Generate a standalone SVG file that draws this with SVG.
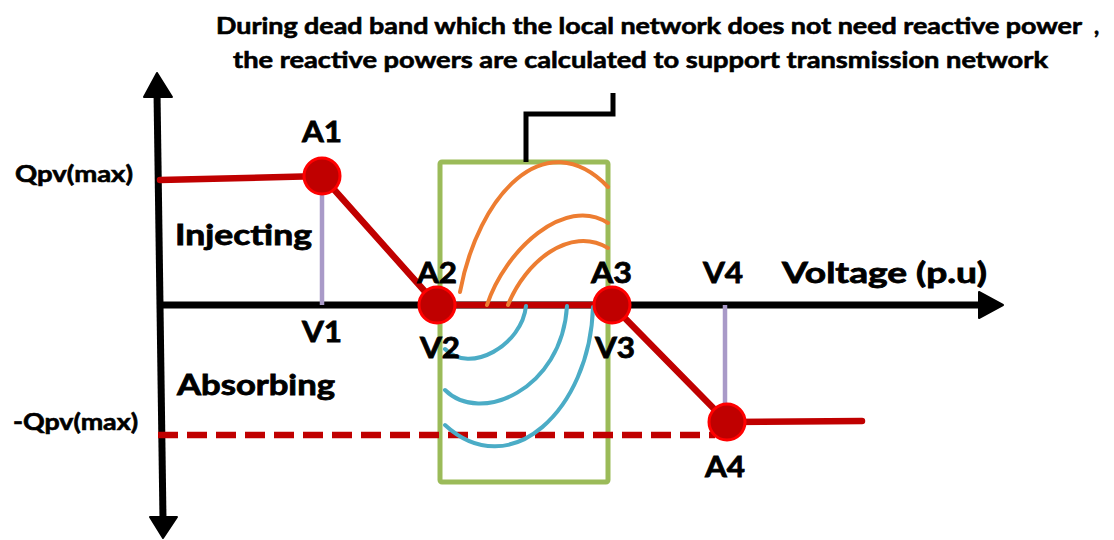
<svg xmlns="http://www.w3.org/2000/svg" width="1114" height="540" viewBox="0 0 1114 540">
<style>
text{font-family:Lato,"Liberation Sans",sans-serif;font-weight:bold;fill:#000;stroke:#000;stroke-width:0.6}
.t{font-size:22px}
.q{font-size:22px}
.l{font-size:28px;stroke-width:0.8}
.ax{stroke:#000;stroke-width:7;fill:none}
.red{stroke:#c00000;stroke-width:6.5;fill:none;stroke-linecap:round;stroke-linejoin:round}
.pur{stroke:#a99ac8;stroke-width:4.5}
.or{stroke:#ed7d31;stroke-width:4;fill:none;stroke-linecap:round}
.bl{stroke:#4bacc6;stroke-width:4;fill:none;stroke-linecap:round}
.pt{fill:#c00000;stroke:#ff0000;stroke-width:3}
</style>
<rect width="1114" height="540" fill="#fff"/>
<g id="title">
<text class="t" x="216" y="34" textLength="866" lengthAdjust="spacingAndGlyphs">During dead band which the local network does not need reactive power</text>
<text class="t" x="1094" y="34">,</text>
<text class="t" x="233" y="68" textLength="815" lengthAdjust="spacingAndGlyphs">the reactive powers are calculated to support transmission network</text>
</g>
<g id="axes">
<path class="ax" d="M157,92 L163,520"/>
<polygon points="157,73 172,97 144,97" fill="#000" stroke="#000" stroke-width="2" stroke-linejoin="round"/>
<polygon points="163,538 177,517 150,517" fill="#000" stroke="#000" stroke-width="2" stroke-linejoin="round"/>
<path class="ax" d="M158,305 L982,305"/>
<polygon points="1003,305 979,292 979,318" fill="#000" stroke="#000" stroke-width="2" stroke-linejoin="round"/>
</g>
<g id="deadband">
<rect x="440" y="162" width="168" height="320" rx="2" fill="none" stroke="#9bbb59" stroke-width="5"/>
<path d="M526,162 V114 H613 V93" fill="none" stroke="#000" stroke-width="5"/>
</g>
<g id="guides">
<line class="pur" x1="322" y1="176" x2="322" y2="305"/>
<line class="pur" x1="725" y1="305" x2="725" y2="420"/>
</g>
<g id="connectors">
<path class="red" d="M160,180 L322,176 L437,305 L612,305 L727,422 L862,421"/>
<path d="M158,435 L715,435" stroke="#c00000" stroke-width="6.5" stroke-dasharray="20 9" fill="none"/>
<path class="or" d="M460,292 C478,195 545,122 608,187"/>
<path class="or" d="M487,305 C505,250 565,195 608,223"/>
<path class="or" d="M508,305 C525,262 570,225 608,248"/>
<path class="bl" d="M526,306 C522,345 470,375 445,349"/>
<path class="bl" d="M567,306 C562,390 480,425 445,390"/>
<path class="bl" d="M593,307 C590,410 510,485 445,425"/>
</g>
<g id="A1"><circle class="pt" cx="322" cy="176" r="18"/><text class="l" x="302" y="142" textLength="40" lengthAdjust="spacingAndGlyphs">A1</text></g>
<g id="A2"><circle class="pt" cx="437" cy="305" r="18"/><text class="l" x="417" y="283" textLength="40" lengthAdjust="spacingAndGlyphs">A2</text></g>
<g id="A3"><circle class="pt" cx="612" cy="305" r="18"/><text class="l" x="591" y="283" textLength="41" lengthAdjust="spacingAndGlyphs">A3</text></g>
<g id="A4"><circle class="pt" cx="727" cy="422" r="18"/><text class="l" x="705" y="477" textLength="40" lengthAdjust="spacingAndGlyphs">A4</text></g>
<g id="labels">
<text class="q" x="15" y="182" textLength="118" lengthAdjust="spacingAndGlyphs">Qpv(max)</text>
<text class="q" x="13" y="430" textLength="125" lengthAdjust="spacingAndGlyphs">-Qpv(max)</text>
<text class="l" x="175" y="245" textLength="137" lengthAdjust="spacingAndGlyphs">Injecting</text>
<text class="l" x="177" y="395" textLength="158" lengthAdjust="spacingAndGlyphs">Absorbing</text>
<text class="l" x="302" y="342" textLength="40" lengthAdjust="spacingAndGlyphs">V1</text>
<text class="l" x="420" y="358" textLength="40" lengthAdjust="spacingAndGlyphs">V2</text>
<text class="l" x="595" y="358" textLength="40" lengthAdjust="spacingAndGlyphs">V3</text>
<text class="l" x="703" y="283" textLength="40" lengthAdjust="spacingAndGlyphs">V4</text>
<text class="l" x="782" y="283" textLength="205" lengthAdjust="spacingAndGlyphs">Voltage (p.u)</text>
</g>
</svg>
